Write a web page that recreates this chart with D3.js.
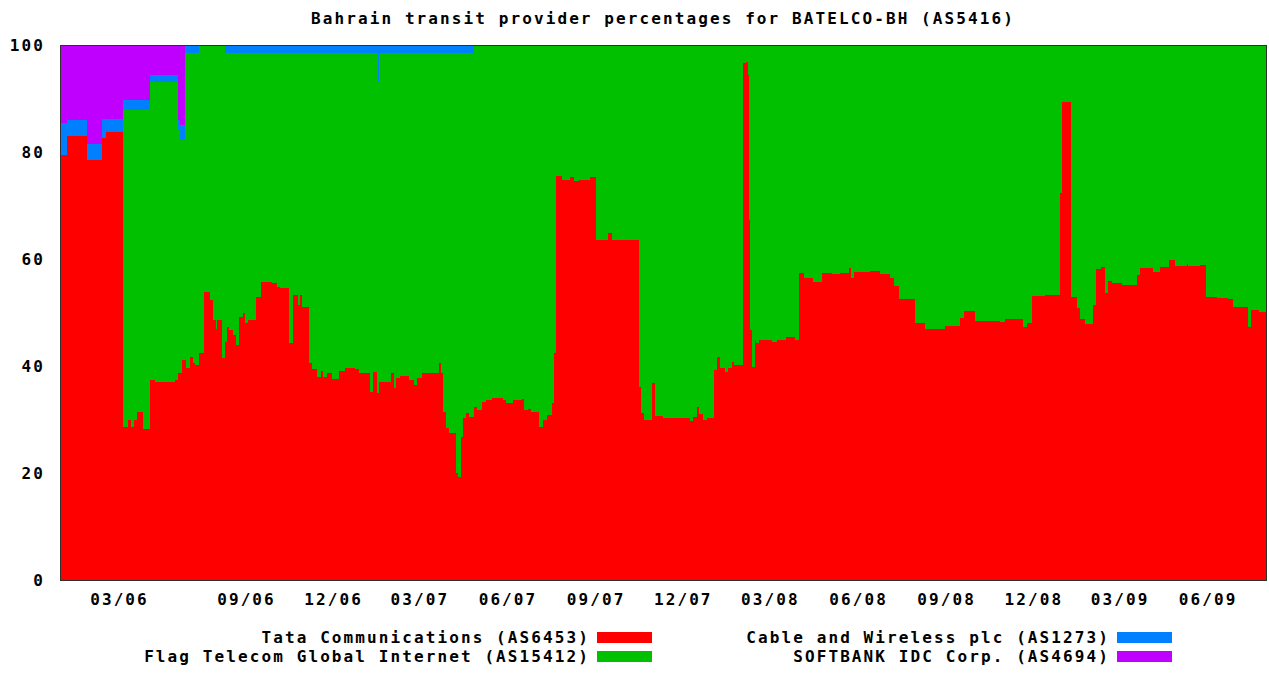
<!DOCTYPE html>
<html>
<head>
<meta charset="utf-8">
<script src="https://cdn.jsdelivr.net/npm/d3@7"></script>
<style>
    body { margin: 0; background: #fff; }
    text { font-family: "DejaVu Sans Mono", monospace; font-weight: bold; font-size: 16px; letter-spacing: 2.1px; fill: #000; }
</style>
</head>
<body>
<div class="graph"></div>
<script>
// Sample dates (step changes) and provider shares in percent
const dates = [
    "2006-01-01","2006-01-08","2006-01-28","2006-02-13","2006-02-17","2006-03-08","2006-03-15","2006-03-20",
    "2006-03-24","2006-03-28","2006-04-06","2006-04-16","2006-04-23","2006-05-22","2006-05-27","2006-05-30",
    "2006-06-01","2006-06-02","2006-06-06","2006-06-07","2006-06-13","2006-06-17","2006-06-20","2006-06-27",
    "2006-07-04","2006-07-12","2006-07-17","2006-07-21","2006-07-23","2006-07-30","2006-08-03","2006-08-06",
    "2006-08-09","2006-08-15","2006-08-19","2006-08-23","2006-08-29","2006-09-01","2006-09-04","2006-09-13",
    "2006-09-18","2006-09-29","2006-10-04","2006-10-08","2006-10-17","2006-10-21","2006-10-26","2006-10-28",
    "2006-10-31","2006-11-07","2006-11-10","2006-11-15","2006-11-19","2006-11-21","2006-11-26","2006-12-01",
    "2006-12-08","2006-12-14","2006-12-25","2006-12-29","2007-01-09","2007-01-13","2007-01-17","2007-01-18",
    "2007-01-19","2007-01-31","2007-02-04","2007-02-06","2007-02-10","2007-02-19","2007-02-24","2007-02-28",
    "2007-03-05","2007-03-23","2007-03-25","2007-03-27","2007-03-30","2007-04-02","2007-04-09","2007-04-11",
    "2007-04-15","2007-04-17","2007-04-20","2007-04-23","2007-04-28","2007-05-01","2007-05-06","2007-05-11",
    "2007-05-17","2007-05-28","2007-06-01","2007-06-08","2007-06-17","2007-06-19","2007-06-23","2007-06-27",
    "2007-07-05","2007-07-09","2007-07-13","2007-07-19","2007-07-21","2007-07-23","2007-07-29","2007-08-06",
    "2007-08-11","2007-08-16","2007-08-27","2007-09-02","2007-09-15","2007-09-19","2007-10-17","2007-10-19",
    "2007-10-23","2007-10-31","2007-11-03","2007-11-11","2007-12-10","2007-12-13","2007-12-17","2007-12-19",
    "2007-12-23","2007-12-27","2008-01-04","2008-01-07","2008-01-10","2008-01-15","2008-01-18","2008-01-22",
    "2008-01-25","2008-02-03","2008-02-06","2008-02-08","2008-02-09","2008-02-10","2008-02-12","2008-02-15",
    "2008-02-17","2008-02-20","2008-03-04","2008-03-09","2008-03-19","2008-03-28","2008-04-01","2008-04-07",
    "2008-04-16","2008-04-25","2008-05-06","2008-05-14","2008-05-24","2008-05-26","2008-05-29","2008-06-14",
    "2008-06-25","2008-07-05","2008-07-10","2008-07-15","2008-08-01","2008-08-11","2008-09-01","2008-09-16",
    "2008-09-21","2008-10-02","2008-10-28","2008-11-02","2008-11-21","2008-11-25","2008-12-01","2008-12-14",
    "2008-12-30","2009-01-01","2009-01-10","2009-01-17","2009-01-20","2009-01-25","2009-02-02","2009-02-05",
    "2009-02-11","2009-02-15","2009-02-18","2009-02-22","2009-03-05","2009-03-20","2009-03-23","2009-04-06",
    "2009-04-13","2009-04-23","2009-04-29","2009-05-11","2009-05-13","2009-05-25","2009-05-31","2009-06-12",
    "2009-06-23","2009-06-28","2009-07-14","2009-07-17","2009-07-26","2009-08-03"
];

// Tata Communications (AS6453)
const tata = [
    79.5,83.0,78.5,82.6,83.7,28.6,29.9,28.6, 29.9,31.4,28.2,37.4,37.0,37.4,38.7,38.7,
    48.0,41.1,41.1,39.6,41.7,40.6,40.2,42.4, 53.8,52.3,48.6,47.0,48.6,41.5,44.5,47.3,
    46.7,45.8,43.9,49.2,49.9,48.0,48.6,52.9, 55.7,55.5,54.8,54.6,44.3,53.3,51.4,53.3,
    51.0,40.6,39.4,38.0,39.0,38.0,38.7,37.6, 39.0,39.6,39.4,38.7,35.1,38.9,35.0,35.0,
    37.0,38.7,35.9,37.8,38.1,37.4,36.4,37.8, 38.7,40.6,38.7,31.4,28.4,27.5,20.0,19.3,
    26.7,30.3,31.2,30.5,32.3,31.8,33.3,33.6, 34.0,33.6,33.0,33.6,33.8,31.8,32.0,31.4,
    28.6,29.9,30.8,33.1,42.4,75.5,74.8,75.3, 74.5,74.8,75.3,63.5,64.8,63.5,36.0,31.2,
    29.9,36.8,30.6,30.3,29.7,30.5,32.3,31.0, 29.9,30.3,39.3,41.7,39.6,38.9,39.6,40.7,
    40.2,96.6,96.8,94.4,67.3,46.7,39.8,44.9, 44.3,44.9,44.5,44.9,45.4,44.9,57.4,56.4,
    55.7,57.4,57.2,57.4,58.3,56.4,57.6,57.8, 57.2,56.4,55.0,52.5,48.0,47.0,47.5,49.0,
    50.3,48.5,48.2,48.8,47.3,48.0,53.1,53.3, 72.3,89.3,52.9,50.8,48.8,47.9,51.4,58.1,
    58.5,53.6,55.9,55.5,55.1,57.0,58.3,57.6, 58.5,59.8,58.7,59.1,58.7,58.9,52.9,52.7,
    52.5,51.0,47.3,50.5,50.1,50.1
];

// Flag Telecom Global Internet (AS15412)
const flag = [
    0,0,0,0,0,59.3,58.0,59.3, 57.9,56.4,59.6,55.7,56.1,55.7,45.4,43.5,
    34.2,41.1,57.4,58.9,56.8,57.9,58.3,57.6, 46.2,47.7,51.4,53.0,51.4,58.5,54.0,51.2,
    51.8,52.7,54.6,49.3,48.6,50.5,49.9,45.6, 42.8,43.0,43.7,43.9,54.2,45.2,47.1,45.2,
    47.5,57.9,59.1,60.5,59.5,60.5,59.8,60.9, 59.5,58.9,59.1,59.8,63.4,59.6,63.5,58.0,
    61.5,59.8,62.6,60.7,60.4,61.1,62.1,60.7, 59.8,57.9,59.8,67.1,70.1,71.0,78.5,79.2,
    71.8,68.2,67.3,68.0,67.7,68.2,66.7,66.4, 66.0,66.4,67.0,66.4,66.2,68.2,68.0,68.6,
    71.4,70.1,69.2,66.9,57.6,24.5,25.2,24.7, 25.5,25.2,24.7,36.5,35.2,36.5,64.0,68.8,
    70.1,63.2,69.4,69.7,70.3,69.5,67.7,69.0, 70.1,69.7,60.7,58.3,60.4,61.1,60.4,59.3,
    59.8,3.4,3.2,5.6,32.7,53.3,60.2,55.1, 55.7,55.1,55.5,55.1,54.6,55.1,42.6,43.6,
    44.3,42.6,42.8,42.6,41.7,43.6,42.4,42.2, 42.8,43.6,45.0,47.5,52.0,53.0,52.5,51.0,
    49.7,51.5,51.8,51.2,52.7,52.0,46.9,46.7, 27.7,10.7,47.1,49.2,51.2,52.1,48.6,41.9,
    41.5,46.4,44.1,44.5,44.9,43.0,41.7,42.4, 41.5,40.2,41.3,40.9,41.3,41.1,47.1,47.3,
    47.5,49.0,52.7,49.5,49.9,49.9
];

// Cable and Wireless plc (AS1273), only present until spring 2007
const cw = [
    6.0,3.0,3.0,3.6,2.5,1.8,1.8,1.8, 2.0,2.0,2.0,1.3,1.3,1.3,1.9,2.8,
    2.8,2.8,1.5,1.5,1.5,1.5,1.5,0, 0,0,0,0,0,0,1.5,1.5,
    1.5,1.5,1.5,1.5,1.5,1.5,1.5,1.5, 1.5,1.5,1.5,1.5,1.5,1.5,1.5,1.5,
    1.5,1.5,1.5,1.5,1.5,1.5,1.5,1.5, 1.5,1.5,1.5,1.5,1.5,1.5,1.5,7.0,
    1.5,1.5,1.5,1.5,1.5,1.5,1.5,1.5, 1.5,1.5,1.5,1.5,1.5,1.5,1.5,1.5,
    1.5,1.5,1.5,1.5
];

// SOFTBANK IDC Corp. (AS4694), only present in the first half of 2006
const softbank = [
    14.5,14.0,18.5,13.8,13.8,10.3,10.3,10.3, 10.2,10.2,10.2,5.6,5.6,5.6,14.0,15.0,
    15.0,15.0
];

const tickDates = ["2006-03-01","2006-09-01","2006-12-01","2007-03-01","2007-06-01","2007-09-01",
    "2007-12-01","2008-03-01","2008-06-01","2008-09-01","2008-12-01","2009-03-01","2009-06-01"];
const yTicks = [0, 20, 40, 60, 80, 100];

const providers = [
    {key: "tata", name: "Tata Communications (AS6453)", color: "#ff0000", values: tata},
    {key: "flag", name: "Flag Telecom Global Internet (AS15412)", color: "#00c000", values: flag},
    {key: "cw", name: "Cable and Wireless plc (AS1273)", color: "#0080ff", values: cw},
    {key: "softbank", name: "SOFTBANK IDC Corp. (AS4694)", color: "#c000ff", values: softbank}
];

const parseDate = d3.timeParse("%Y-%m-%d");

// table for d3.stack, missing values are zero
const table = dates.map((d, i) => {
    const row = {date: parseDate(d)};
    providers.forEach(p => { row[p.key] = p.values[i] || 0; });
    return row;
});

const dimensions = {
    width: 1269,
    height: 673,
    margins: {top: 45, right: 2, bottom: 93, left: 60}
};
dimensions.boundedWidth = dimensions.width - dimensions.margins.left - dimensions.margins.right;
dimensions.boundedHeight = dimensions.height - dimensions.margins.top - dimensions.margins.bottom;

const wrapper = d3.select(".graph")
    .append("svg")
        .attr("width", dimensions.width)
        .attr("height", dimensions.height);

const bounds = wrapper.append("g")
    .attr("transform", `translate(${dimensions.margins.left},${dimensions.margins.top})`);

// the original axis squeezes the first half of 2006, so the time scale is piecewise
const xScale = d3.scaleTime()
    .domain([parseDate("2006-01-01"), parseDate("2006-03-01"), parseDate("2006-09-01"), parseDate("2009-08-03")])
    .range([0, 58, 185, dimensions.boundedWidth]);

const yScale = d3.scaleLinear()
    .domain([0, 100])
    .range([dimensions.boundedHeight, 0]);

const series = d3.stack()
    .keys(providers.map(p => p.key))(table);

const areaGenerator = d3.area()
    .x(d => xScale(d.data.date))
    .y0(d => yScale(d[0]))
    .y1(d => yScale(d[1]))
    .curve(d3.curveStepAfter);

bounds.append("g")
    .selectAll("path")
    .data(series)
    .join("path")
        .attr("d", areaGenerator)
        .attr("fill", (d, i) => providers[i].color)
        .attr("shape-rendering", "crispEdges");

// frame round the plot
bounds.append("rect")
    .attr("x", 0.5)
    .attr("y", 0.5)
    .attr("width", dimensions.boundedWidth - 1)
    .attr("height", dimensions.boundedHeight)
    .attr("fill", "none")
    .attr("stroke", "#303030");

const yAxis = bounds.append("g")
    .call(d3.axisLeft(yScale).tickValues(yTicks).tickSize(0).tickPadding(15));
yAxis.select(".domain").remove();
yAxis.selectAll("text").attr("font-family", null).attr("font-size", null).attr("fill", null);

const xAxis = bounds.append("g")
    .attr("transform", `translate(0,${dimensions.boundedHeight})`)
    .call(d3.axisBottom(xScale)
        .tickValues(tickDates.map(parseDate))
        .tickFormat(d3.timeFormat("%m/%y"))
        .tickSize(0)
        .tickPadding(14));
xAxis.select(".domain").remove();
xAxis.selectAll("text").attr("font-family", null).attr("font-size", null).attr("fill", null)
    .attr("dx", "1px");

// title
wrapper.append("text")
    .attr("x", 663)
    .attr("y", 24)
    .attr("text-anchor", "middle")
    .text("Bahrain transit provider percentages for BATELCO-BH (AS5416)");

// legend: two columns, two rows
const legendPos = [
    {x: 597, y: 632}, {x: 597, y: 651}, {x: 1117, y: 632}, {x: 1117, y: 651}
];
const legend = wrapper.append("g")
    .selectAll("g")
    .data(providers)
    .join("g")
        .attr("transform", (d, i) => `translate(${legendPos[i].x},${legendPos[i].y})`);

legend.append("rect")
    .attr("width", 55)
    .attr("height", 11)
    .attr("fill", d => d.color);

legend.append("text")
    .attr("x", -7)
    .attr("y", 11)
    .attr("text-anchor", "end")
    .text(d => d.name);
</script>
</body>
</html>
